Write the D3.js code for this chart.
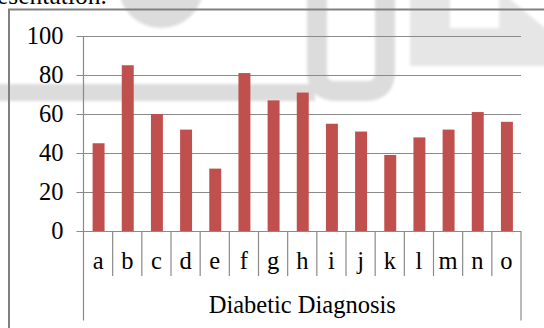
<!DOCTYPE html>
<html>
<head>
<meta charset="utf-8">
<script src="https://cdn.jsdelivr.net/npm/d3@7"></script>
</head>
<body style="margin:0; background:#fff">
<svg id="chart" width="544" height="328" style="display:block"></svg>
<script>
// Diagnosis categories and their scores
const categories = ["a","b","c","d","e","f","g","h","i","j","k","l","m","n","o"];
const values = [45, 85, 60, 52, 32, 81, 67, 71, 55, 51, 39, 48, 52, 61, 56];
const yTicks = [0, 20, 40, 60, 80, 100];
const axisTitle = "Diabetic Diagnosis";

const svg = d3.select("#chart");

const plot = { left: 83.5, right: 521, top: 36, bottom: 231 };

const x = d3.scaleBand().domain(categories).range([plot.left, plot.right]).padding(0);
const y = d3.scaleLinear().domain([0, 100]).range([plot.bottom, plot.top]);

const gridColor = "#8a8a8a";
const serif = '"Liberation Serif"';
const fontSize = 24.5;

// faint background logo of the page
const defs = svg.append("defs");
defs.append("filter").attr("id", "soft")
  .append("feGaussianBlur").attr("stdDeviation", 1.6);
const logo = svg.append("g").attr("filter", "url(#soft)").attr("opacity", 0.85);
const logoGray = "#d6d6d6";
logo.append("ellipse")
  .attr("cx", 161).attr("cy", -12).attr("rx", 42).attr("ry", 40)
  .attr("fill", logoGray);
logo.append("rect")
  .attr("x", -5).attr("y", 84).attr("width", 320).attr("height", 17)
  .attr("fill", logoGray);
logo.append("path")
  .attr("d", "M317,-5 V72 Q317,91 336,91 H366 Q385,91 385,72 V-5")
  .attr("fill", "none").attr("stroke", logoGray).attr("stroke-width", 20);
logo.append("path")
  .attr("d", "M410,-5 H505 L550,32 V66 H410 Z M450,-5 V28 H499 V-5 Z")
  .attr("fill", "#e2e2e2").attr("fill-rule", "evenodd");

// running text of the page above the chart
svg.append("text")
  .attr("x", -3).attr("y", 4)
  .attr("font-family", serif)
  .attr("font-size", 25.5)
  .text("esentation.");

// outer chart frame
svg.append("path")
  .attr("d", "M9,328 V9.5 H544")
  .attr("fill", "none")
  .attr("stroke", "#808080")
  .attr("stroke-width", 2);

// horizontal gridlines with tick stubs
const yAxis = d3.axisLeft(y)
  .tickValues(yTicks)
  .tickSize(plot.right - plot.left + 7)
  .tickPadding(14)
  .tickFormat(d3.format("d"));

const gy = svg.append("g")
  .attr("transform", `translate(${plot.right},0)`)
  .call(yAxis)
  .attr("font-family", serif)
  .attr("font-size", fontSize);
gy.select(".domain").remove();
gy.selectAll(".tick line").attr("stroke", gridColor).attr("stroke-width", 1.2);
gy.selectAll(".tick text")
  .attr("x", -(plot.right - plot.left) - 20)
  .attr("fill", "#000");

// bars
const barW = x.bandwidth() * 0.41;
svg.append("g").selectAll("rect")
  .data(values)
  .join("rect")
  .attr("x", (d, i) => x(categories[i]) + (x.bandwidth() - barW) / 2 + 0.5)
  .attr("y", d => y(d))
  .attr("width", barW)
  .attr("height", d => y(0) - y(d))
  .attr("fill", "#C0504D");

// vertical axis line and category dividers
svg.append("line")
  .attr("x1", plot.left).attr("x2", plot.left)
  .attr("y1", plot.top).attr("y2", 320.5)
  .attr("stroke", gridColor).attr("stroke-width", 1.2);
svg.append("line")
  .attr("x1", plot.right).attr("x2", plot.right)
  .attr("y1", plot.bottom).attr("y2", 320.5)
  .attr("stroke", gridColor).attr("stroke-width", 1.2);

svg.append("g").selectAll("line")
  .data(categories.slice(1))
  .join("line")
  .attr("x1", d => x(d)).attr("x2", d => x(d))
  .attr("y1", plot.bottom).attr("y2", 276)
  .attr("stroke", gridColor).attr("stroke-width", 1.2);

// category labels
svg.append("g")
  .attr("font-family", serif)
  .attr("font-size", fontSize)
  .selectAll("text")
  .data(categories)
  .join("text")
  .attr("x", d => x(d) + x.bandwidth() / 2)
  .attr("y", 269)
  .attr("text-anchor", "middle")
  .text(d => d);

// axis title
svg.append("text")
  .attr("x", (plot.left + plot.right) / 2)
  .attr("y", 312.5)
  .attr("text-anchor", "middle")
  .attr("font-family", serif)
  .attr("font-size", fontSize)
  .text(axisTitle);
</script>
</body>
</html>
